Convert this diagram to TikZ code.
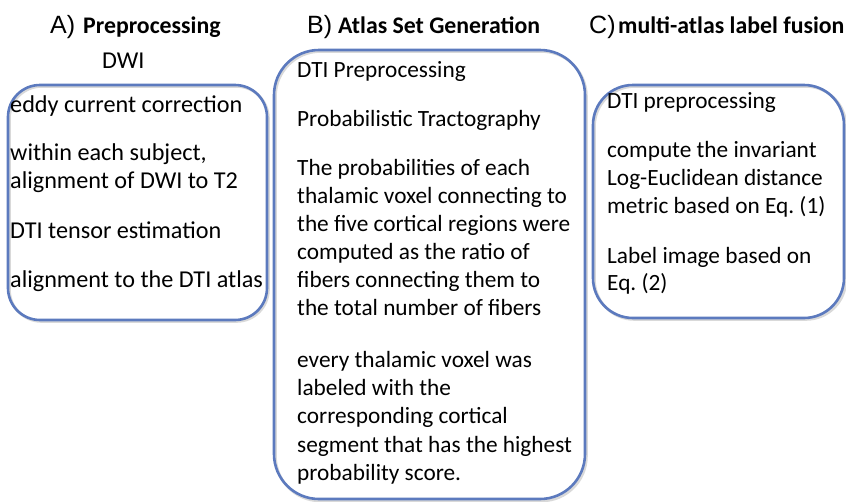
\documentclass[tikz,border=0pt]{standalone}
\usepackage{fontspec}
\setmainfont{Carlito}
\newfontfamily\helv{Liberation Sans}
\definecolor{boxblue}{RGB}{92,122,190}
\frenchspacing
\begin{document}
\begin{tikzpicture}[x=1pt,y=-1pt,
  txt/.style={anchor=base west,inner sep=0pt,font=\fontsize{23.3}{28}\selectfont},
  txta/.style={anchor=base west,inner sep=0pt,font=\fontsize{24.2}{28}\selectfont},
  ttl/.style={anchor=base west,inner sep=0pt,font=\fontsize{23.8}{28}\selectfont\bfseries},
  lbl/.style={anchor=base west,inner sep=0pt,font=\helv\fontsize{25}{28}\selectfont},
  stage/.style={draw=boxblue,line width=2.6pt},
  shade/.style={draw=black!15,line width=2.6pt}]
\useasboundingbox (0,0) rectangle (846,501);
\fill[white] (0,0) rectangle (846,501);
% boxes
\draw[shade,rounded corners=32pt] (9.5,86.5) rectangle (268.5,321.5);
\draw[stage,rounded corners=32pt] (8,85) rectangle (267,320);
\draw[shade,rounded corners=45pt] (275.5,51.5) rectangle (586.5,501);
\draw[stage,rounded corners=45pt] (274,50) rectangle (585,499);
\draw[shade,rounded corners=40pt] (594.5,86.5) rectangle (846,319.5);
\draw[stage,rounded corners=40pt] (593,85) rectangle (844,318);
% titles
\node[lbl] (la) at (50,33) {A)};
\node[ttl] (ta) at (83,33) {Preprocessing};
\node[lbl] (lb) at (307,33) {B)};
\node[ttl] (tb) at (338,33) {Atlas Set Generation};
\node[lbl] (lc) at (589,33) {C)};
\node[ttl] (tc) at (618,33) {multi-atlas label fusion};
% A
\node[txta] (dwi) at (102,68) {DWI};
\node[txta] (a1) at (10,112) {eddy current correction};
\node[txta] (a2) at (10,160) {within each subject,};
\node[txta] (a3) at (10,188) {alignment of DWI to T2};
\node[txta] (a4) at (10,238) {DTI tensor estimation};
\node[txta] (a5) at (10,287) {alignment to the DTI atlas};
% B
\node[txt] (b1) at (297,77) {DTI Preprocessing};
\node[txt] (b2) at (297,126) {Probabilistic Tractography};
\node[txt] (b3) at (297,175) {The probabilities of each};
\node[txt] (b4) at (297,203) {thalamic voxel connecting to};
\node[txt] (b5) at (297,231) {the five cortical regions were};
\node[txt] (b6) at (297,259) {computed as the ratio of};
\node[txt] (b7) at (297,287) {fibers connecting them to};
\node[txt] (b8) at (297,315) {the total number of fibers};
\node[txt] (b9) at (297,367) {every thalamic voxel was};
\node[txt] (b10) at (297,395) {labeled with the};
\node[txt] (b11) at (297,423) {corresponding cortical};
\node[txt] (b12) at (297,452) {segment that has the highest};
\node[txt] (b13) at (297,480) {probability score.};
% C
\node[txt] (c1) at (607,108) {DTI preprocessing};
\node[txt] (c2) at (607,157) {compute the invariant};
\node[txt] (c3) at (607,185) {Log-Euclidean distance};
\node[txt] (c4) at (607,213) {metric based on Eq. (1)};
\node[txt] (c5) at (607,263) {Label image based on};
\node[txt] (c6) at (607,290) {Eq. (2)};
\end{tikzpicture}
\end{document}
